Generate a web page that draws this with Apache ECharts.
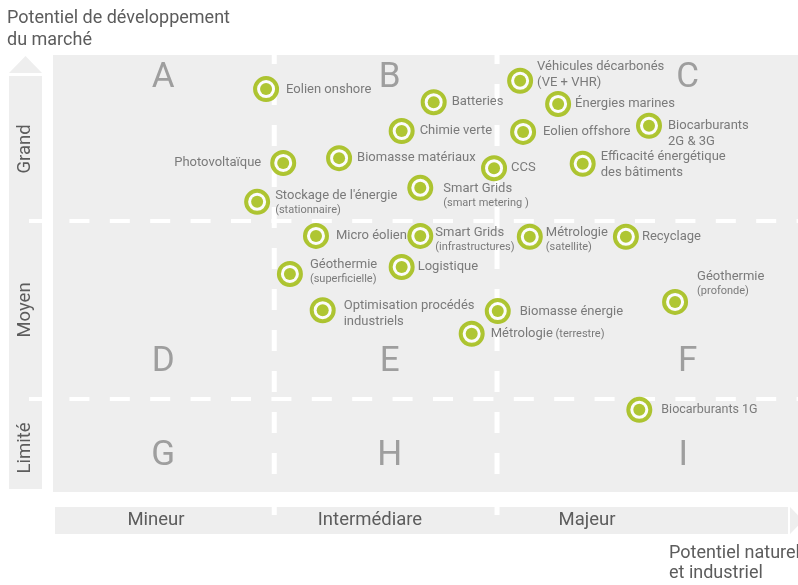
<!DOCTYPE html>
<html>
<head>
<meta charset="utf-8">
<title>Potentiel de développement du marché</title>
<script src="https://cdn.jsdelivr.net/npm/echarts@6/dist/echarts.min.js"></script>
<style>html,body{margin:0;padding:0;background:#fff}#chart{width:798px;height:585px}</style>
</head>
<body>
<div id="chart"></div>
<script>
// filières : x = potentiel naturel et industriel, y = potentiel de marché (échelle 0-100)
var names = ['Eolien onshore', 'Batteries', 'Chimie verte', 'Biomasse matériaux', 'Photovoltaïque',
    'Stockage de l\'énergie', 'Smart Grids', 'CCS', 'Véhicules décarbonés\n(VE + VHR)', 'Énergies marines',
    'Eolien offshore', 'Biocarburants\n2G & 3G', 'Efficacité énergétique\ndes bâtiments', 'Micro éolien', 'Smart Grids',
    'Géothermie', 'Logistique', 'Optimisation procédés\nindustriels', 'Biomasse énergie', 'Métrologie',
    'Métrologie', 'Recyclage', 'Géothermie', 'Biocarburants 1G'];
var notes = ['', '', '', '', '',
    '(stationnaire)', '(smart metering )', '', '', '',
    '', '', '', '', '(infrastructures)',
    '(superficielle)', '', '', '', '(terrestre)',
    '(satellite)', '', '(profonde)', ''];
var xVals = [28.6, 51.1, 46.8, 38.4, 30.9, 27.4, 49.3, 59.2, 62.7, 67.8, 63.1, 80.0,
    71.1, 35.3, 49.3, 31.8, 46.8, 36.2, 59.7, 56.2, 64.0, 76.9, 83.5, 78.7];
var yVals = [92.2, 89.2, 82.6, 76.4, 75.3, 66.4, 69.6, 74.1, 94.1, 88.8, 82.4, 83.8,
    75.1, 58.6, 58.6, 49.9, 51.5, 41.6, 41.4, 36.2, 58.4, 58.4, 43.5, 18.8];

// quadrants
var letters = ['A', 'B', 'C', 'D', 'E', 'F', 'G', 'H', 'I'];
var letterX = [14.8, 45.2, 85.2, 14.8, 45.2, 85.2, 14.8, 45.2, 84.6];
var letterY = [94.7, 94.7, 94.7, 29.7, 29.7, 29.7, 8.2, 8.2, 8.2];
var colSplit = [29.7, 59.6];
var rowSplit = [21.3, 62.0];
var rowLabels = ['Grand', 'Moyen', 'Limité'];
var colLabels = ['Mineur', 'Intermédiare', 'Majeur'];

var GREEN = '#9bb800';
var TXT = '#5c5c5c';
var GREY = '#eeeeee';

// réglages de position des étiquettes [dx, dy]
var labelShift = {
    0: [2, 1], 6: [5, 7], 7: [-1, 0], 8: [-1, -6], 9: [-1, 0], 10: [2, 0], 11: [1, 8], 12: [0, 1],
    13: [2, 0], 14: [-3, 3], 15: [2, -3], 16: [-2, 0], 17: [3, 4], 18: [4, 1], 19: [1, 0],
    20: [-2, 2], 21: [-2, 0], 22: [4, -19], 23: [4, 0]
};

var points = [];
for (var i = 0; i < names.length; i++) {
    var lbl = { offset: labelShift[i] || [0, 0] };
    if (i === 4) { lbl.position = 'left'; lbl.distance = 9; }
    points.push({ name: names[i], note: notes[i], idx: i, value: [xVals[i], yVals[i]], label: lbl });
}

function fmt(p) {
    var d = p.data;
    var main = d.name.split('\n').map(function (s) { return '{' + (d.idx === 23 ? 'k' : 'm') + '|' + s + '}'; }).join('\n');
    if (!d.note) return main;
    if (d.idx === 19) return main + '{s| ' + d.note + '}';
    return main + '\n{s|' + d.note + '}';
}

var letterData = [];
for (var j = 0; j < letters.length; j++) letterData.push({ name: letters[j], value: [letterX[j], letterY[j]] });

var myChart = echarts.init(document.getElementById('chart'), null, { renderer: 'canvas' });

var option = {
    animation: false,
    textStyle: { fontFamily: 'Roboto, sans-serif' },
    grid: { left: 53, right: 0, top: 55, bottom: 93, show: true, backgroundColor: GREY, borderWidth: 0 },
    xAxis: { type: 'value', min: 0, max: 100, show: false },
    yAxis: { type: 'value', min: 0, max: 100, show: false },
    series: [
        {
            name: 'quadrants',
            type: 'scatter',
            symbolSize: 1,
            itemStyle: { color: 'rgba(0,0,0,0)' },
            silent: true,
            data: letterData,
            label: {
                show: true, position: 'inside', formatter: '{b}',
                color: '#8a8a8a', fontSize: 35, fontFamily: 'Roboto, sans-serif'
            }
        },
        {
            name: 'filières',
            type: 'scatter',
            symbolSize: 22,
            itemStyle: { color: '#fff', borderColor: GREEN, borderWidth: 4 },
            data: points,
            z: 3,
            label: {
                show: true, position: 'right', distance: 5, formatter: fmt,
                rich: {
                    m: { fontSize: 13, lineHeight: 16, color: TXT, fontFamily: 'Roboto, sans-serif' },
                    k: { fontSize: 12.5, lineHeight: 16, color: TXT, fontFamily: 'Roboto, sans-serif' },
                    s: { fontSize: 11, lineHeight: 12, color: TXT, fontFamily: 'Roboto, sans-serif' }
                }
            }
        },
        {
            name: 'centre',
            type: 'scatter',
            symbolSize: 12,
            itemStyle: { color: GREEN },
            silent: true,
            z: 4,
            data: points.map(function (p) { return p.value; })
        }
    ]
};
myChart.setOption(option);

// décor : bandes d'axes, séparateurs pointillés, titres
var g = [];
g.push({ type: 'rect', shape: { x: 9, y: 76, width: 33, height: 413 }, style: { fill: GREY }, z: -1 });
g.push({ type: 'polygon', shape: { points: [[9, 73], [42, 73], [25.5, 56]] }, style: { fill: GREY }, z: -1 });
g.push({ type: 'rect', shape: { x: 55, y: 507, width: 733, height: 27 }, style: { fill: GREY }, z: -1 });
g.push({ type: 'polygon', shape: { points: [[790, 507], [790, 534], [803, 520.5]] }, style: { fill: GREY }, z: -1 });

colSplit.forEach(function (v) {
    var px = myChart.convertToPixel({ gridIndex: 0 }, [v, 0])[0];
    g.push({ type: 'line', shape: { x1: px, y1: 43, x2: px, y2: 536 },
        style: { stroke: '#fff', lineWidth: 5, lineDash: [21, 20] }, z: 1 });
});
rowSplit.forEach(function (v) {
    var py = myChart.convertToPixel({ gridIndex: 0 }, [0, v])[1];
    g.push({ type: 'line', shape: { x1: -11.4, y1: py, x2: 798, y2: py },
        style: { stroke: '#fff', lineWidth: 4, lineDash: [20, 20.4] }, z: 1 });
});

function txt(t, x, y, size, align, rot) {
    return {
        type: 'text', x: x, y: y, rotation: rot || 0, z: 5,
        style: { text: t, x: 0, y: 0, fill: TXT, font: size + 'px Roboto, sans-serif',
            align: align, verticalAlign: 'middle', textAlign: align, textVerticalAlign: 'middle' }
    };
}
var rowY = [149, 310, 448];
rowLabels.forEach(function (t, k) { g.push(txt(t, 25, rowY[k], 18.5, 'center', Math.PI / 2)); });
var colX = [156, 370, 587];
colLabels.forEach(function (t, k) { g.push(txt(t, colX[k], 520, 18.5, 'center')); });
g.push(txt('Potentiel de développement', 7, 18, 18, 'left'));
g.push(txt('du marché', 7, 40, 18, 'left'));
g.push(txt('Potentiel naturel', 669, 553, 18, 'left'));
g.push(txt('et industriel', 669, 573, 18, 'left'));

myChart.setOption({ graphic: g });
</script>
</body>
</html>
